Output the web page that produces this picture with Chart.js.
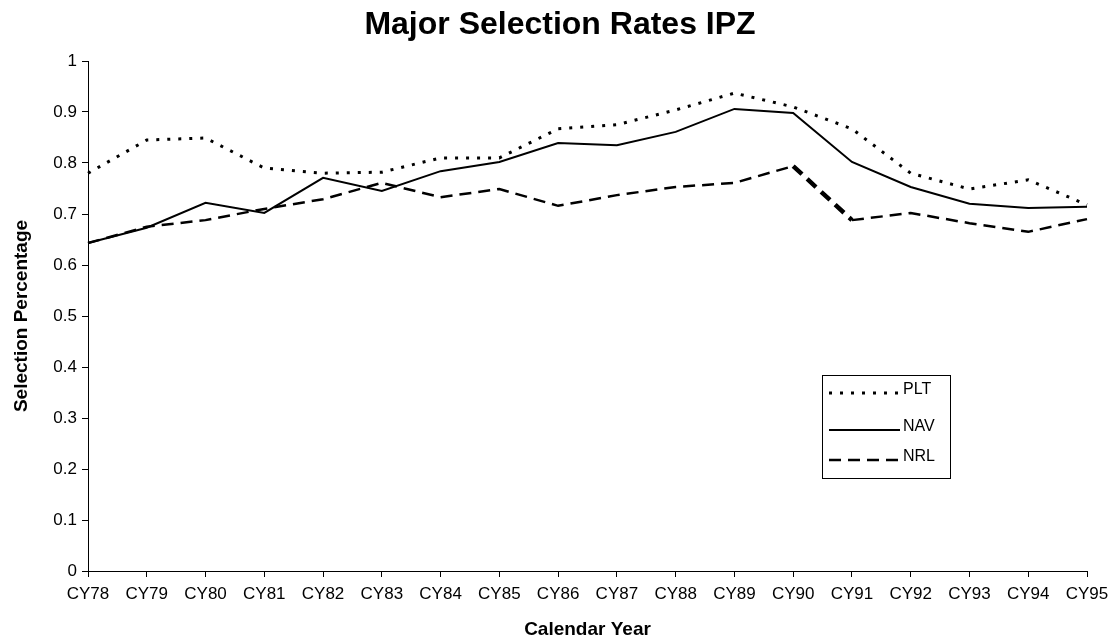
<!DOCTYPE html>
<html>
<head>
<meta charset="utf-8">
<script src="https://cdn.jsdelivr.net/npm/chart.js@4/dist/chart.umd.min.js"></script>
<style>
  html, body { margin: 0; padding: 0; background: #fff; }
  #wrap { width: 1117px; height: 644px; position: relative; }
</style>
</head>
<body>
<div id="wrap"><canvas id="c" width="1117" height="644"></canvas></div>
<script>
const categories = ["CY78","CY79","CY80","CY81","CY82","CY83","CY84","CY85","CY86","CY87","CY88","CY89","CY90","CY91","CY92","CY93","CY94","CY95"];
const pltValues = [0.78,0.845,0.849,0.79,0.78,0.782,0.81,0.81,0.867,0.875,0.904,0.937,0.91,0.867,0.78,0.749,0.767,0.718];
const navValues = [0.643,0.673,0.722,0.702,0.771,0.745,0.784,0.802,0.839,0.835,0.861,0.906,0.898,0.802,0.753,0.72,0.712,0.714];
const nrlValues = [0.643,0.675,0.688,0.71,0.729,0.761,0.733,0.749,0.716,0.737,0.753,0.761,0.794,0.688,0.702,0.682,0.665,0.69];
const seriesNames = ["PLT","NAV","NRL"];
const chartTitle = "Major Selection Rates IPZ";
const xTitle = "Calendar Year";
const yTitle = "Selection Percentage";

const FONT = "'Liberation Sans', Arial, sans-serif";

const titlePlugin = {
  id: 'topTitle',
  afterDraw(chart) {
    const ctx = chart.ctx;
    ctx.save();
    ctx.fillStyle = '#000';
    ctx.font = "bold 32px " + FONT;
    ctx.textAlign = 'center';
    ctx.textBaseline = 'middle';
    ctx.fillText(chartTitle, 560, 25);
    ctx.restore();
  }
};

const legendPlugin = {
  id: 'boxLegend',
  afterDraw(chart) {
    const ctx = chart.ctx;
    const x0 = 822, y0 = 375, w = 128, h = 103;
    ctx.save();
    ctx.strokeStyle = '#000';
    ctx.lineWidth = 1;
    ctx.setLineDash([]);
    ctx.strokeRect(x0 + 0.5, y0 + 0.5, w, h);
    const rows = [393, 430, 460];
    chart.data.datasets.forEach((ds, i) => {
      const y = rows[i];
      ctx.strokeStyle = '#000';
      ctx.lineWidth = ds.borderWidth;
      ctx.setLineDash(ds.borderDash || []);
      ctx.beginPath();
      ctx.moveTo(829, y);
      ctx.lineTo(900, y);
      ctx.stroke();
      ctx.setLineDash([]);
      ctx.fillStyle = '#000';
      ctx.font = "16px " + FONT;
      ctx.textBaseline = 'middle';
      ctx.textAlign = 'left';
      ctx.fillText(ds.label, 903, y - 3);
    });
    ctx.restore();
  }
};

new Chart(document.getElementById('c'), {
  type: 'line',
  data: {
    labels: categories,
    datasets: [
      { label: seriesNames[0], data: pltValues, borderColor: '#000', borderWidth: 3, borderDash: [3, 8], pointRadius: 0, tension: 0, fill: false },
      { label: seriesNames[1], data: navValues, borderColor: '#000', borderWidth: 2, pointRadius: 0, tension: 0, fill: false },
      { label: seriesNames[2], data: nrlValues, borderColor: '#000', borderWidth: 2.5, borderDash: [12, 7], pointRadius: 0, tension: 0, fill: false,
        segment: { borderWidth: c => (c.p0DataIndex === 12 ? 4.5 : undefined) } }
    ]
  },
  options: {
    responsive: false,
    animation: false,
    layout: { padding: { left: 0, right: 30, top: 61, bottom: 0 } },
    plugins: {
      legend: { display: false },
      tooltip: { enabled: false },
      title: { display: false }
    },
    scales: {
      x: {
        type: 'category',
        offset: false,
        border: { display: true, color: '#000', width: 1 },
        grid: { display: true, drawOnChartArea: false, drawTicks: true, tickLength: 6, color: '#000' },
        ticks: { color: '#000', font: { family: FONT, size: 17 }, padding: 7, maxRotation: 0, autoSkip: false },
        title: { display: true, text: xTitle, color: '#000', font: { family: FONT, size: 19, weight: 'bold', lineHeight: 1.2 }, padding: { top: 4, bottom: 3 } },
        afterFit(scale) { scale.height = 73; }
      },
      y: {
        min: 0, max: 1,
        border: { display: true, color: '#000', width: 1 },
        grid: { display: true, drawOnChartArea: false, drawTicks: true, tickLength: 6, color: '#000' },
        ticks: { stepSize: 0.1, color: '#000', font: { family: FONT, size: 17 }, padding: 5,
          callback: v => (Math.round(v * 10) / 10).toString() },
        title: { display: true, text: yTitle, color: '#000', font: { family: FONT, size: 19, weight: 'bold', lineHeight: 1.2 }, padding: { top: 10, bottom: 0 } },
        afterFit(scale) { scale.width = 88; }
      }
    }
  },
  plugins: [titlePlugin, legendPlugin]
});
</script>
</body>
</html>
